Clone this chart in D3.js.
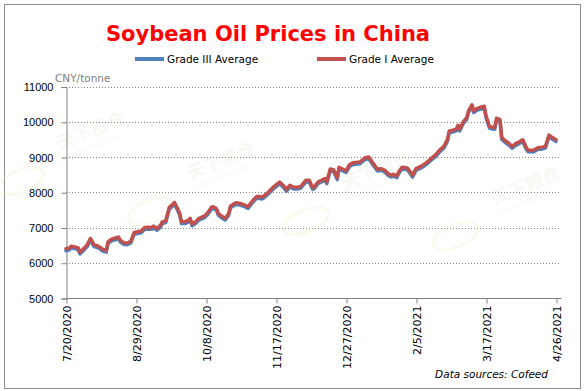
<!DOCTYPE html>
<html>
<head>
<meta charset="utf-8">
<script src="https://cdnjs.cloudflare.com/ajax/libs/d3/7.8.5/d3.min.js"></script>
<style>
  body { margin: 0; background: #fff; }
  svg { display: block; }
</style>
</head>
<body>
<div id="chart-area"></div>
<script>
// Soybean oil prices, CNY/tonne
var dates = [
  "2020-07-20","2020-07-22","2020-07-23","2020-07-25","2020-07-27","2020-07-28","2020-07-30","2020-08-01",
  "2020-08-03","2020-08-05","2020-08-07","2020-08-09","2020-08-10","2020-08-12","2020-08-13","2020-08-15",
  "2020-08-17","2020-08-19","2020-08-20","2020-08-22","2020-08-24","2020-08-26","2020-08-28","2020-08-30",
  "2020-09-01","2020-09-03","2020-09-05","2020-09-07","2020-09-08","2020-09-10","2020-09-12","2020-09-13",
  "2020-09-15","2020-09-17","2020-09-19","2020-09-20","2020-09-22","2020-09-23","2020-09-24","2020-09-26",
  "2020-09-28","2020-09-29","2020-09-30","2020-10-02","2020-10-04","2020-10-07","2020-10-09","2020-10-11",
  "2020-10-12","2020-10-14","2020-10-15","2020-10-17","2020-10-19","2020-10-21","2020-10-22","2020-10-25",
  "2020-10-27","2020-10-30","2020-11-01","2020-11-04","2020-11-06","2020-11-07","2020-11-09","2020-11-11",
  "2020-11-13","2020-11-16","2020-11-19","2020-11-21","2020-11-23","2020-11-25","2020-11-27","2020-11-29",
  "2020-12-01","2020-12-04","2020-12-06","2020-12-08","2020-12-09","2020-12-11","2020-12-13","2020-12-15",
  "2020-12-16","2020-12-18","2020-12-20","2020-12-22","2020-12-23","2020-12-25","2020-12-27","2020-12-29",
  "2020-12-31","2021-01-04","2021-01-07","2021-01-09","2021-01-10","2021-01-12","2021-01-14","2021-01-16",
  "2021-01-18","2021-01-20","2021-01-22","2021-01-23","2021-01-25","2021-01-26","2021-01-28","2021-01-31",
  "2021-02-01","2021-02-03","2021-02-05","2021-02-08","2021-02-11","2021-02-13","2021-02-16","2021-02-19",
  "2021-02-21","2021-02-23","2021-02-24","2021-02-26","2021-02-28","2021-03-01","2021-03-02","2021-03-04",
  "2021-03-06","2021-03-07","2021-03-09","2021-03-10","2021-03-12","2021-03-14","2021-03-16","2021-03-17",
  "2021-03-19","2021-03-21","2021-03-22","2021-03-23","2021-03-25","2021-03-26","2021-03-28","2021-03-30",
  "2021-04-01","2021-04-03","2021-04-05","2021-04-07","2021-04-09","2021-04-10","2021-04-13","2021-04-16",
  "2021-04-18","2021-04-20","2021-04-22","2021-04-24","2021-04-26"
];

var gradeOne = [
  6400,6420,6470,6450,6420,6300,6400,6500,
  6690,6510,6480,6420,6380,6350,6590,6670,
  6700,6730,6640,6570,6560,6610,6860,6880,
  6900,7000,7010,7000,7040,6970,7060,7160,
  7190,7570,7660,7710,7510,7400,7160,7160,
  7210,7260,7100,7160,7260,7320,7420,7570,
  7590,7540,7400,7320,7260,7400,7610,7700,
  7690,7640,7590,7780,7880,7880,7860,7930,
  8020,8170,8290,8200,8080,8200,8140,8140,
  8160,8340,8340,8130,8160,8290,8340,8390,
  8290,8660,8630,8410,8710,8660,8610,8780,
  8840,8860,8980,9000,8930,8790,8650,8670,
  8630,8530,8480,8510,8460,8570,8710,8690,
  8630,8480,8670,8740,8840,8930,9050,9220,
  9310,9500,9740,9760,9790,9900,9790,10000,
  10120,10310,10480,10310,10380,10410,10440,10170,
  9870,9840,9840,10100,10060,9550,9460,9390,
  9300,9380,9430,9490,9270,9200,9190,9270,
  9270,9310,9620,9550,9490
];

var gradeThree = [
  6340,6370,6420,6400,6370,6250,6350,6450,
  6640,6460,6430,6370,6330,6300,6540,6620,
  6650,6680,6590,6520,6510,6560,6810,6830,
  6850,6950,6960,6950,6990,6920,7010,7110,
  7140,7520,7610,7660,7460,7350,7110,7110,
  7160,7210,7050,7110,7210,7270,7370,7520,
  7540,7490,7350,7270,7210,7350,7560,7650,
  7640,7590,7540,7730,7830,7830,7810,7880,
  7970,8120,8240,8150,8030,8150,8090,8090,
  8110,8290,8290,8080,8110,8240,8290,8340,
  8240,8610,8580,8360,8660,8610,8560,8730,
  8790,8810,8930,8950,8880,8740,8600,8620,
  8580,8480,8430,8460,8410,8520,8660,8640,
  8580,8430,8620,8690,8790,8880,9000,9170,
  9260,9450,9690,9710,9740,9850,9740,9950,
  10070,10260,10430,10260,10330,10360,10390,10120,
  9820,9790,9790,10050,10010,9500,9410,9340,
  9250,9330,9380,9440,9220,9150,9140,9220,
  9220,9260,9570,9500,9440
];

var yTicks = [5000, 6000, 7000, 8000, 9000, 10000, 11000];
var xTickLabels = ["7/20/2020","8/29/2020","10/8/2020","11/17/2020","12/27/2020","2/5/2021","3/17/2021","4/26/2021"];

var width = 584;
var height = 391;
var plot = { left: 66, right: 556, gridRight: 561, top: 86.5, bottom: 298 };

var parseDate = d3.timeParse("%Y-%m-%d");
var parseTick = d3.timeParse("%m/%d/%Y");

var svg = d3.select("#chart-area").append("svg")
    .attr("width", width)
    .attr("height", height);

// outer frame
svg.append("rect")
    .attr("x", 4.5).attr("y", 4.5)
    .attr("width", 576).attr("height", 384)
    .attr("fill", "#fff")
    .attr("stroke", "#8c8c8c");

var x = d3.scaleTime()
    .domain([parseTick(xTickLabels[0]), parseTick(xTickLabels[xTickLabels.length - 1])])
    .range([plot.left, plot.right]);

var y = d3.scaleLinear()
    .domain([5000, 11000])
    .range([plot.bottom, plot.top]);

// faint watermarks
var marks = [[190, 180], [345, 190], [495, 205], [60, 150]];
marks.forEach(function(m) {
    var w = svg.append("g")
        .attr("transform", "translate(" + m[0] + "," + m[1] + ") rotate(-22)")
        .attr("opacity", 0.25);
    w.append("ellipse")
        .attr("cx", -48).attr("cy", 14).attr("rx", 24).attr("ry", 11)
        .attr("fill", "none").attr("stroke", "#f1ecc4").attr("stroke-width", 3);
    w.append("text")
        .attr("font-family", "'Noto Sans CJK SC', sans-serif")
        .attr("font-size", "18px").attr("font-weight", "bold")
        .attr("fill", "#dcebd2")
        .text("天下粮仓");
    w.append("text")
        .attr("y", 11)
        .attr("font-family", "'DejaVu Sans', sans-serif")
        .attr("font-size", "7px")
        .attr("fill", "#dcebd2")
        .text("www.cofeed.com");
});

// gridlines
svg.append("g")
    .selectAll("line")
    .data(yTicks.slice(1))
    .enter().append("line")
    .attr("x1", plot.left).attr("x2", plot.gridRight)
    .attr("y1", function(d) { return Math.round(y(d)) + 0.5; })
    .attr("y2", function(d) { return Math.round(y(d)) + 0.5; })
    .attr("stroke", "#808080")
    .attr("stroke-dasharray", "1,2");

// left axis
var leftAxis = d3.axisLeft(y).tickValues(yTicks).tickSize(5).tickPadding(8).tickFormat(d3.format("d"));
var gy = svg.append("g")
    .attr("transform", "translate(" + (plot.left + 0.5) + ",0.5)")
    .call(leftAxis);
gy.select(".domain").attr("stroke", "#808080");
gy.selectAll(".tick line").attr("stroke", "#808080");
gy.selectAll("text")
    .attr("font-family", "'Liberation Sans', Arial, sans-serif")
    .attr("font-size", "11px")
    .attr("fill", "#000");

// bottom axis
var bottomAxis = d3.axisBottom(x)
    .tickValues(xTickLabels.map(function(s) { return parseTick(s); }))
    .tickSize(5)
    .tickFormat(function(d, i) { return xTickLabels[i]; });
var gx = svg.append("g")
    .attr("transform", "translate(0.5," + (plot.bottom + 0.5) + ")")
    .call(bottomAxis);
gx.select(".domain")
    .attr("d", "M" + plot.left + ",0H" + plot.gridRight)
    .attr("stroke", "#808080");
gx.selectAll(".tick line").attr("stroke", "#808080");
gx.selectAll("text")
    .attr("font-family", "'DejaVu Sans', sans-serif")
    .attr("font-size", "11px")
    .attr("fill", "#000")
    .attr("transform", "rotate(-90)")
    .attr("text-anchor", "end")
    .attr("x", -7)
    .attr("y", 0)
    .attr("dy", "0.35em");

// unit label
svg.append("text")
    .attr("x", 55).attr("y", 82)
    .attr("font-family", "'DejaVu Sans', sans-serif")
    .attr("font-size", "10.5px")
    .attr("fill", "#808080")
    .text("CNY/tonne");

// series
var series = [
    { name: "Grade III Average", values: gradeThree, color: "#4f81bd" },
    { name: "Grade I Average", values: gradeOne, color: "#c0504d" }
];

var line = d3.line()
    .x(function(d) { return x(d.date); })
    .y(function(d) { return y(d.value); });

series.forEach(function(s) {
    var pts = dates.map(function(dt, i) { return { date: parseDate(dt), value: s.values[i] }; });
    svg.append("path")
        .datum(pts)
        .attr("d", line)
        .attr("fill", "none")
        .attr("stroke", s.color)
        .attr("stroke-width", 3.5)
        .attr("stroke-linejoin", "round")
        .attr("stroke-linecap", "round");
});

// title
svg.append("text")
    .attr("x", 268).attr("y", 41)
    .attr("text-anchor", "middle")
    .attr("font-family", "'DejaVu Sans', sans-serif")
    .attr("font-size", "21px")
    .attr("font-weight", "bold")
    .attr("fill", "#ff0000")
    .text("Soybean Oil Prices in China");

// legend
var legendX = [135, 317];
series.forEach(function(s, i) {
    svg.append("line")
        .attr("x1", legendX[i]).attr("x2", legendX[i] + 29)
        .attr("y1", 59).attr("y2", 59)
        .attr("stroke", s.color)
        .attr("stroke-width", 4);
    svg.append("text")
        .attr("x", legendX[i] + 32).attr("y", 63)
        .attr("font-family", "'DejaVu Sans', sans-serif")
        .attr("font-size", "10.5px")
        .attr("fill", "#000")
        .text(s.name);
});

// source note
svg.append("text")
    .attr("x", 548).attr("y", 378)
    .attr("text-anchor", "end")
    .attr("font-family", "'DejaVu Sans', sans-serif")
    .attr("font-size", "10.5px")
    .attr("font-style", "italic")
    .attr("fill", "#000")
    .text("Data sources: Cofeed");
</script>
</body>
</html>
